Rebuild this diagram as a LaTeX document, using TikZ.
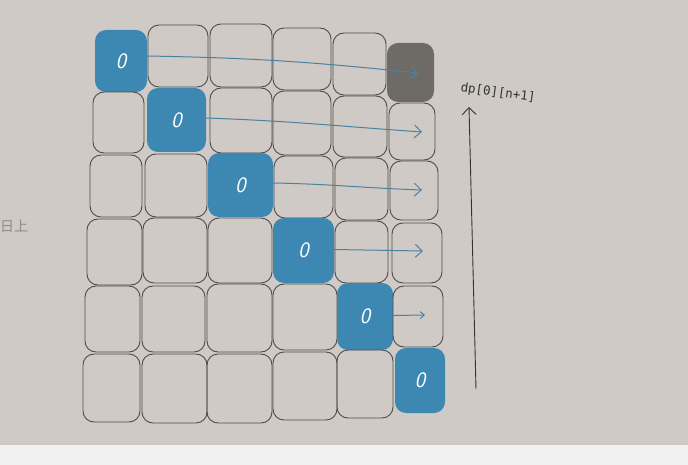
\documentclass[tikz,border=0pt]{standalone}
\usepackage{fontspec}
\newfontfamily\cjkfont{Noto Sans CJK SC}
\newfontfamily\labfont{DejaVu Sans Mono}
\usetikzlibrary{arrows.meta}
\definecolor{paper}{HTML}{CFCAC5}
\definecolor{strip}{HTML}{F1F1F1}
\definecolor{cellblue}{HTML}{3C88B2}
\definecolor{cellgray}{HTML}{6E6A66}
\definecolor{outline}{HTML}{4E4C4A}
\definecolor{arrowblue}{HTML}{4A82A2}
\tikzset{
  cellbox/.style={draw=outline, line width=0.9pt, rounded corners=11pt, inner sep=0pt, outer sep=0pt},
  bluecell/.style={fill=cellblue, rounded corners=11pt, inner sep=0pt, outer sep=0pt,
     text=white, font=\sffamily\itshape\fontsize{22}{22}\selectfont},
  graycell/.style={fill=cellgray, rounded corners=11pt, inner sep=0pt, outer sep=0pt},
  rowarrow/.style={draw=arrowblue, line width=1pt, -{Straight Barb[length=7pt,width=13pt]}},
  axisarrow/.style={draw=black!80, line width=0.9pt, -{Straight Barb[length=7pt,width=14pt]}},
}
% \mycell{name}{x0}{x1}{y0}{y1}{style}{text}
\newcommand\mycell[7]{%
  \node[#6, minimum width={#3pt-#2pt}, minimum height={#5pt-#4pt}] (#1) at ({(#2+#3)/2},{(#4+#5)/2}) {#7};}
\begin{document}
\begin{tikzpicture}[x=1pt,y=-1pt]
\useasboundingbox (0,0) rectangle (688,465);
\fill[paper] (0,0) rectangle (688,445);
\fill[strip] (0,445) rectangle (688,465);
\node[anchor=west, text=black!45, font=\cjkfont\fontsize{14}{14}\selectfont, inner sep=0pt] (side) at (0,226) {日上};
% row 0
\mycell{c00}{95}{147}{30}{92}{bluecell}{0}
\mycell{c01}{148}{208}{25}{87}{cellbox}{}
\mycell{c02}{210}{272}{24}{87}{cellbox}{}
\mycell{c03}{273}{331}{28}{90}{cellbox}{}
\mycell{c04}{333}{386}{33}{95}{cellbox}{}
\mycell{c05}{387}{434}{43}{102}{graycell}{}
% row 1
\mycell{c10}{93}{144}{92}{153}{cellbox}{}
\mycell{c11}{147}{206}{88}{152}{bluecell}{0}
\mycell{c12}{210}{272}{88}{153}{cellbox}{}
\mycell{c13}{273}{331}{91}{155}{cellbox}{}
\mycell{c14}{333}{387}{96}{157}{cellbox}{}
\mycell{c15}{389}{435}{103}{160}{cellbox}{}
% row 2
\mycell{c20}{90}{142}{155}{217}{cellbox}{}
\mycell{c21}{145}{207}{154}{217}{cellbox}{}
\mycell{c22}{208}{273}{153}{217}{bluecell}{0}
\mycell{c23}{274}{333}{156}{218}{cellbox}{}
\mycell{c24}{335}{388}{158}{220}{cellbox}{}
\mycell{c25}{390}{438}{161}{220}{cellbox}{}
% row 3
\mycell{c30}{87}{142}{219}{285}{cellbox}{}
\mycell{c31}{143}{207}{218}{283}{cellbox}{}
\mycell{c32}{208}{272}{218}{283}{cellbox}{}
\mycell{c33}{273}{334}{218}{283}{bluecell}{0}
\mycell{c34}{335}{388}{221}{283}{cellbox}{}
\mycell{c35}{392}{442}{223}{283}{cellbox}{}
% row 4
\mycell{c40}{85}{140}{286}{352}{cellbox}{}
\mycell{c41}{142}{205}{286}{352}{cellbox}{}
\mycell{c42}{207}{272}{284}{352}{cellbox}{}
\mycell{c43}{273}{337}{284}{350}{cellbox}{}
\mycell{c44}{337}{393}{283}{350}{bluecell}{0}
\mycell{c45}{393}{443}{286}{347}{cellbox}{}
% row 5
\mycell{c50}{83}{140}{354}{422}{cellbox}{}
\mycell{c51}{142}{207}{354}{423}{cellbox}{}
\mycell{c52}{207}{272}{354}{423}{cellbox}{}
\mycell{c53}{273}{337}{352}{420}{cellbox}{}
\mycell{c54}{337}{393}{350}{418}{cellbox}{}
\mycell{c55}{395}{445}{348}{413}{bluecell}{0}
% arrow end points
\coordinate (e0) at (418,73);
\coordinate (e1) at (422,132);
\coordinate (e2) at (422,190);
\coordinate (e3) at (423,251);
\coordinate (e4) at (425,315);
\draw[rowarrow] ([yshift=5pt]c00.east) to[out=-1,in=174] (e0);
\draw[rowarrow] ([yshift=2pt]c11.east) to[out=-2,in=176] (e1);
\draw[rowarrow] ([yshift=2pt]c22.east) to[out=-1,in=178] (e2);
\draw[rowarrow] ([yshift=1pt]c33.east) -- (e3);
\draw[rowarrow, -{Straight Barb[length=4pt,width=7pt]}] ([yshift=1pt]c44.east) -- (e4);
% vertical axis
\coordinate (vbot) at (476,389);
\coordinate (vtop) at (469,107);
\draw[axisarrow] (vbot) -- (vtop);
\node[rotate=-8, text=black!80, font=\labfont\fontsize{12.5}{12.5}\selectfont, inner sep=0pt] (lab) at (498,93) {dp[0][n+1]};
\end{tikzpicture}
\end{document}
